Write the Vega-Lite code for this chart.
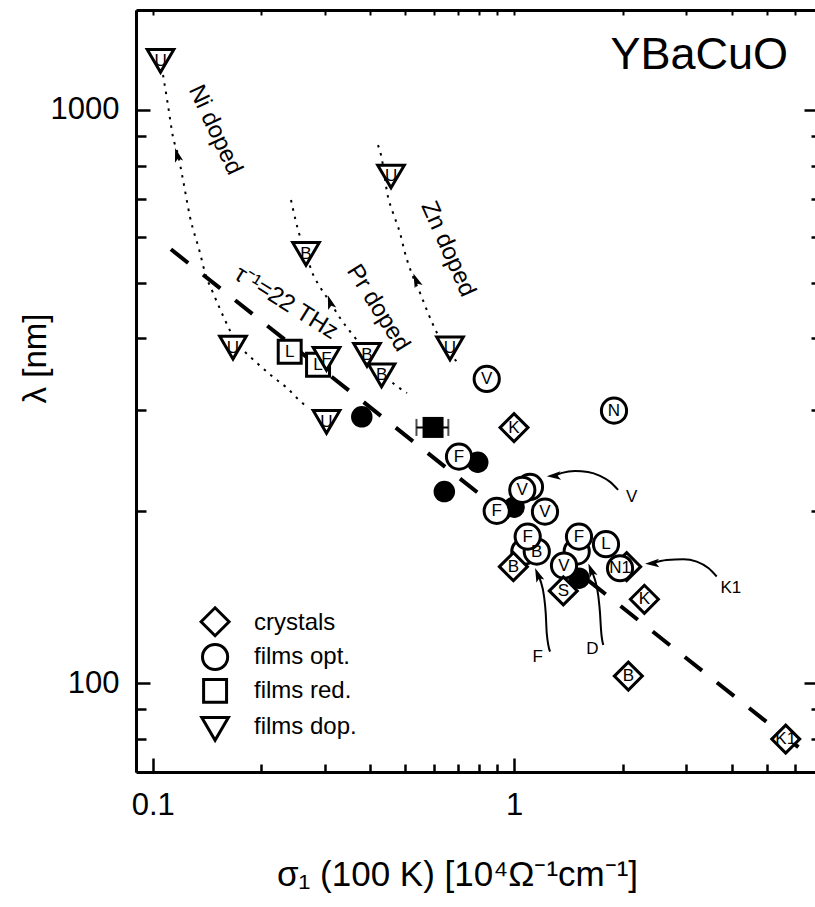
{
  "$schema": "https://vega.github.io/schema/vega-lite/v6.json",
  "width": 679,
  "height": 762,
  "autosize": {"type": "none"},
  "padding": {"left": 136, "top": 10, "right": 0, "bottom": 135},
  "background": "white",
  "config": {
    "view": {"stroke": null},
    "font": "Liberation Sans",
    "axisLeft": {"titleFontSize": 33, "titleFontWeight": "normal", "titleColor": "black", "titleX": -101, "titleY": 348, "titleAngle": 270, "titleAlign": "center", "titleBaseline": "middle"}
  },
  "resolve": {"axis": {"x": "independent", "y": "independent"}},
  "datasets": {
    "fit": [{"x": 0.1123, "y": 571.5}, {"x": 6.48, "y": 75.2}],
    "doping": [
      {"grp": "Ni1", "x": 0.1068, "y": 1151}, {"grp": "Ni1", "x": 0.1102, "y": 1020}, {"grp": "Ni1", "x": 0.1138, "y": 897}, {"grp": "Ni1", "x": 0.1175, "y": 835}, {"grp": "Ni1", "x": 0.1213, "y": 755}, {"grp": "Ni1", "x": 0.1268, "y": 651}, {"grp": "Ni1", "x": 0.1352, "y": 563}, {"grp": "Ni1", "x": 0.1396, "y": 519.6}, {"grp": "Ni1", "x": 0.1469, "y": 479.6}, {"grp": "Ni1", "x": 0.1585, "y": 430.1}, {"grp": "Ni1", "x": 0.1658, "y": 405},
      {"grp": "Ni2", "x": 0.18, "y": 378.3}, {"grp": "Ni2", "x": 0.1944, "y": 361.9}, {"grp": "Ni2", "x": 0.2153, "y": 342.1}, {"grp": "Ni2", "x": 0.2353, "y": 327.3}, {"grp": "Ni2", "x": 0.2525, "y": 313.2}, {"grp": "Ni2", "x": 0.2691, "y": 302.1},
      {"grp": "Pr", "x": 0.2414, "y": 696.7}, {"grp": "Pr", "x": 0.2492, "y": 637.9}, {"grp": "Pr", "x": 0.2573, "y": 593.2}, {"grp": "Pr", "x": 0.2656, "y": 561}, {"grp": "Pr", "x": 0.276, "y": 521.7}, {"grp": "Pr", "x": 0.2904, "y": 491.2}, {"grp": "Pr", "x": 0.3095, "y": 462.4}, {"grp": "Pr", "x": 0.33, "y": 433.6}, {"grp": "Pr", "x": 0.356, "y": 406.7}, {"grp": "Pr", "x": 0.3918, "y": 378.3}, {"grp": "Pr", "x": 0.4284, "y": 349.1}, {"grp": "Pr", "x": 0.4655, "y": 332.7}, {"grp": "Pr", "x": 0.5056, "y": 320.8},
      {"grp": "Zn", "x": 0.4202, "y": 868.6}, {"grp": "Zn", "x": 0.4284, "y": 834.7}, {"grp": "Zn", "x": 0.448, "y": 705.2}, {"grp": "Zn", "x": 0.4625, "y": 661.4}, {"grp": "Zn", "x": 0.4835, "y": 610.3}, {"grp": "Zn", "x": 0.4992, "y": 563.1}, {"grp": "Zn", "x": 0.5255, "y": 511.4}, {"grp": "Zn", "x": 0.5493, "y": 479.6}, {"grp": "Zn", "x": 0.578, "y": 442.4}, {"grp": "Zn", "x": 0.6121, "y": 408.3}, {"grp": "Zn", "x": 0.6954, "y": 363.4}
    ],
    "pointers": [
      {"grp": "V", "x": 1.941, "y": 217.4}, {"grp": "V", "x": 1.844, "y": 224.5}, {"grp": "V", "x": 1.73, "y": 230.0}, {"grp": "V", "x": 1.602, "y": 233.7}, {"grp": "V", "x": 1.475, "y": 234.6}, {"grp": "V", "x": 1.358, "y": 232.8}, {"grp": "V", "x": 1.288, "y": 229.9},
      {"grp": "K1", "x": 3.639, "y": 153.5}, {"grp": "K1", "x": 3.45, "y": 158.8}, {"grp": "K1", "x": 3.204, "y": 163.0}, {"grp": "K1", "x": 2.942, "y": 164.6}, {"grp": "K1", "x": 2.646, "y": 164.1}, {"grp": "K1", "x": 2.41, "y": 161.9},
      {"grp": "F", "x": 1.258, "y": 113.5}, {"grp": "F", "x": 1.232, "y": 122.2}, {"grp": "F", "x": 1.224, "y": 132.4}, {"grp": "F", "x": 1.211, "y": 141.6}, {"grp": "F", "x": 1.186, "y": 150.4}, {"grp": "F", "x": 1.163, "y": 154.7},
      {"grp": "D", "x": 1.766, "y": 116.6}, {"grp": "D", "x": 1.741, "y": 123.9}, {"grp": "D", "x": 1.73, "y": 132.4}, {"grp": "D", "x": 1.712, "y": 141.6}, {"grp": "D", "x": 1.676, "y": 151.4}, {"grp": "D", "x": 1.633, "y": 157.6}
    ],
    "heads": [
      {"x": 0.1168, "y": 835, "ang": -16},
      {"x": 0.3095, "y": 462.4, "ang": -18},
      {"x": 0.5355, "y": 505, "ang": -22},
      {"x": 1.288, "y": 229.9, "ang": -93},
      {"x": 2.41, "y": 161.9, "ang": -93},
      {"x": 1.163, "y": 154.7, "ang": -22},
      {"x": 1.633, "y": 157.6, "ang": -22}
    ],
    "solid": [
      {"x": 0.379, "y": 291.6}, {"x": 0.7936, "y": 242.9}, {"x": 0.6413, "y": 215.9}, {"x": 1.0, "y": 202.8}, {"x": 1.513, "y": 152.5}
    ],
    "reduced": [{"x": 0.5969, "y": 279.4, "lo": 0.537, "hi": 0.658}],
    "markers": [
      {"type": "crystals", "x": 2.05, "y": 159.7, "lab": ""},
      {"type": "films opt.", "x": 1.107, "y": 220.0, "lab": ""},
      {"type": "films opt.", "x": 1.068, "y": 169.7, "lab": ""},
      {"type": "films opt.", "x": 1.491, "y": 169.7, "lab": ""},
      {"type": "films opt.", "x": 0.8403, "y": 339.5, "lab": "V"},
      {"type": "films opt.", "x": 1.891, "y": 298.9, "lab": "N"},
      {"type": "films opt.", "x": 0.7042, "y": 248.5, "lab": "F"},
      {"type": "films opt.", "x": 1.054, "y": 217.4, "lab": "V"},
      {"type": "films opt.", "x": 0.8956, "y": 199.8, "lab": "F"},
      {"type": "films opt.", "x": 1.218, "y": 199.2, "lab": "V"},
      {"type": "films opt.", "x": 1.156, "y": 169.7, "lab": "B"},
      {"type": "films opt.", "x": 1.091, "y": 180.2, "lab": "F"},
      {"type": "films opt.", "x": 1.513, "y": 180.2, "lab": "F"},
      {"type": "films opt.", "x": 1.375, "y": 160.4, "lab": "V"},
      {"type": "films opt.", "x": 1.797, "y": 174.8, "lab": "L"},
      {"type": "films opt.", "x": 1.965, "y": 158.7, "lab": "N1"},
      {"type": "crystals", "x": 1.0, "y": 279.2, "lab": "K"},
      {"type": "crystals", "x": 0.996, "y": 159.7, "lab": "B"},
      {"type": "crystals", "x": 1.369, "y": 144.9, "lab": "S"},
      {"type": "crystals", "x": 2.295, "y": 140.1, "lab": "K"},
      {"type": "crystals", "x": 2.072, "y": 102.9, "lab": "B"},
      {"type": "crystals", "x": 5.649, "y": 79.9, "lab": "K1"},
      {"type": "films red.", "x": 0.2394, "y": 378.8, "lab": "L"},
      {"type": "films red.", "x": 0.2868, "y": 359.5, "lab": "L"},
      {"type": "films dop.", "x": 0.1051, "y": 1218, "lab": "U"},
      {"type": "films dop.", "x": 0.1668, "y": 385, "lab": "U"},
      {"type": "films dop.", "x": 0.2656, "y": 561, "lab": "B"},
      {"type": "films dop.", "x": 0.4566, "y": 765.6, "lab": "U"},
      {"type": "films dop.", "x": 0.665, "y": 383.7, "lab": "U"},
      {"type": "films dop.", "x": 0.3027, "y": 285.6, "lab": "U"},
      {"type": "films dop.", "x": 0.3027, "y": 367.9, "lab": "F"},
      {"type": "films dop.", "x": 0.3918, "y": 373.8, "lab": "B"},
      {"type": "films dop.", "x": 0.4299, "y": 344.3, "lab": "B"}
    ],
    "key": [
      {"type": "crystals", "x": 0.1488, "lx": 0.1907, "y": 128.0, "ly": 127.6},
      {"type": "films opt.", "x": 0.1488, "lx": 0.1907, "y": 111.1, "ly": 111.1},
      {"type": "films red.", "x": 0.1488, "lx": 0.1907, "y": 96.96, "ly": 96.96},
      {"type": "films dop.", "x": 0.1488, "lx": 0.1907, "y": 83.24, "ly": 84.0}
    ],
    "notes": [
      {"txt": "Ni doped", "x": 0.1488, "y": 922.9, "ang": 65},
      {"txt": "Pr doped", "x": 0.4202, "y": 451.4, "ang": 58},
      {"txt": "Zn doped", "x": 0.6568, "y": 572.1, "ang": 66},
      {"txt": "τ⁻¹=22 THz", "x": 0.2339, "y": 460.7, "ang": 32}
    ],
    "tags": [
      {"txt": "V", "x": 2.117, "y": 211.6},
      {"txt": "K1", "x": 3.98, "y": 146.4},
      {"txt": "F", "x": 1.163, "y": 111.3},
      {"txt": "D", "x": 1.647, "y": 114.6}
    ],
    "heading": [{"txt": "YBaCuO", "x": 5.733, "y": 1179}]
  },
  "layer": [
    {
      "data": {"name": "fit"},
      "mark": {"type": "line", "color": "black", "strokeWidth": 4, "strokeDash": [22, 19]},
      "encoding": {
        "x": {"field": "x", "type": "quantitative", "scale": {"type": "log", "domain": [0.08989, 6.808], "nice": false},
          "axis": {
            "orient": "bottom",
            "values": [0.09, 0.1, 0.2, 0.3, 0.4, 0.5, 0.6, 0.7, 0.8, 0.9, 1, 2, 3, 4, 5, 6],
            "labelExpr": "datum.value == 0.1 ? '0.1' : (datum.value == 1 ? '1' : '')",
            "tickSize": {"condition": {"test": "datum.value == 0.1 || datum.value == 1", "value": -14}, "value": -8},
            "tickWidth": 2.5, "tickColor": "black",
            "domainColor": "black", "domainWidth": 3,
            "labelFontSize": 31, "labelColor": "black", "labelPadding": 32,
            "labelFlush": false, "labelOverlap": false, "labelBound": false,
            "grid": false,
            "title": "σ₁ (100 K) [10⁴Ω⁻¹cm⁻¹]",
            "titleFontSize": 35, "titleFontWeight": "normal", "titleColor": "black",
            "titleX": 321, "titleY": 113, "titleAlign": "center", "titleBaseline": "alphabetic"
          }
        },
        "y": {"field": "y", "type": "quantitative", "scale": {"type": "log", "domain": [70, 1494.3], "nice": false},
          "axis": {
            "orient": "left",
            "values": [80, 90, 100, 200, 300, 400, 500, 600, 700, 800, 900, 1000],
            "labelExpr": "datum.value == 100 ? '100' : (datum.value == 1000 ? '1000' : '')",
            "tickSize": {"condition": {"test": "datum.value == 100 || datum.value == 1000", "value": -14}, "value": -10},
            "tickWidth": 2.5, "tickColor": "black",
            "domainColor": "black", "domainWidth": 3,
            "labelFontSize": 31, "labelColor": "black", "labelPadding": 31,
            "labelFlush": false, "labelOverlap": false, "labelBound": false,
            "grid": false,
            "title": "λ [nm]"
          }
        }
      }
    },
    {
      "data": {"name": "doping"},
      "mark": {"type": "line", "color": "black", "strokeWidth": 2, "strokeDash": [2.5, 6], "interpolate": "monotone"},
      "encoding": {
        "x": {"field": "x", "type": "quantitative", "scale": {"type": "log", "domain": [0.08989, 6.808], "nice": false},
          "axis": {
            "orient": "top",
            "values": [0.09, 0.1, 0.2, 0.3, 0.4, 0.5, 0.6, 0.7, 0.8, 0.9, 1, 2, 3, 4, 5, 6],
            "labels": false,
            "tickSize": -5, "tickWidth": 2, "tickColor": "black",
            "domainColor": "black", "domainWidth": 3, "grid": false, "title": null
          }
        },
        "y": {"field": "y", "type": "quantitative", "scale": {"type": "log", "domain": [70, 1494.3], "nice": false},
          "axis": {
            "orient": "right",
            "values": [80, 90, 100, 200, 300, 400, 500, 600, 700, 800, 900, 1000],
            "labels": false,
            "tickSize": {"condition": {"test": "datum.value == 100 || datum.value == 1000", "value": -11}, "value": -4},
            "tickWidth": 2.5, "tickColor": "black",
            "domain": false, "grid": false, "title": null
          }
        },
        "detail": {"field": "grp", "type": "nominal"}
      }
    },
    {
      "data": {"name": "pointers"},
      "mark": {"type": "line", "color": "black", "strokeWidth": 2, "interpolate": "monotone"},
      "encoding": {
        "x": {"field": "x", "type": "quantitative", "scale": {"type": "log", "domain": [0.08989, 6.808], "nice": false}, "axis": null},
        "y": {"field": "y", "type": "quantitative", "scale": {"type": "log", "domain": [70, 1494.3], "nice": false}, "axis": null},
        "detail": {"field": "grp", "type": "nominal"}
      }
    },
    {
      "data": {"name": "heads"},
      "mark": {"type": "point", "shape": "M0,-1L0.6,1L0,0.55L-0.6,1Z", "filled": true, "color": "black", "opacity": 1, "size": 200},
      "encoding": {
        "x": {"field": "x", "type": "quantitative", "scale": {"type": "log", "domain": [0.08989, 6.808], "nice": false}, "axis": null},
        "y": {"field": "y", "type": "quantitative", "scale": {"type": "log", "domain": [70, 1494.3], "nice": false}, "axis": null},
        "angle": {"field": "ang", "type": "quantitative", "scale": null}
      }
    },
    {
      "data": {"name": "solid"},
      "mark": {"type": "point", "shape": "circle", "filled": true, "color": "black", "opacity": 1, "size": 462},
      "encoding": {
        "x": {"field": "x", "type": "quantitative", "scale": {"type": "log", "domain": [0.08989, 6.808], "nice": false}, "axis": null},
        "y": {"field": "y", "type": "quantitative", "scale": {"type": "log", "domain": [70, 1494.3], "nice": false}, "axis": null}
      }
    },
    {
      "data": {"name": "reduced"},
      "mark": {"type": "errorbar", "color": "black", "thickness": 2, "ticks": {"size": 17, "thickness": 2}},
      "encoding": {
        "x": {"field": "lo", "type": "quantitative", "scale": {"type": "log", "domain": [0.08989, 6.808], "nice": false}, "axis": null},
        "x2": {"field": "hi"},
        "y": {"field": "y", "type": "quantitative", "scale": {"type": "log", "domain": [70, 1494.3], "nice": false}, "axis": null}
      }
    },
    {
      "data": {"name": "reduced"},
      "mark": {"type": "point", "shape": "square", "filled": true, "color": "black", "opacity": 1, "size": 441},
      "encoding": {
        "x": {"field": "x", "type": "quantitative", "scale": {"type": "log", "domain": [0.08989, 6.808], "nice": false}, "axis": null},
        "y": {"field": "y", "type": "quantitative", "scale": {"type": "log", "domain": [70, 1494.3], "nice": false}, "axis": null}
      }
    },
    {
      "data": {"name": "markers"},
      "mark": {"type": "point", "filled": false, "stroke": "black", "fill": "white", "fillOpacity": 1, "strokeWidth": 3, "opacity": 1, "size": 784},
      "encoding": {
        "x": {"field": "x", "type": "quantitative", "scale": {"type": "log", "domain": [0.08989, 6.808], "nice": false}, "axis": null},
        "y": {"field": "y", "type": "quantitative", "scale": {"type": "log", "domain": [70, 1494.3], "nice": false}, "axis": null},
        "shape": {
          "field": "type", "type": "nominal",
          "scale": {
            "domain": ["crystals", "films opt.", "films red.", "films dop."],
            "range": ["M-1,0L0,-1L1,0L0,1Z", "M0.9,0C0.9,0.497,0.497,0.9,0,0.9C-0.497,0.9,-0.9,0.497,-0.9,0C-0.9,-0.497,-0.497,-0.9,0,-0.9C0.497,-0.9,0.9,-0.497,0.9,0Z", "M-0.82,-0.82L0.82,-0.82L0.82,0.82L-0.82,0.82Z", "M-0.95,-0.81L0.95,-0.81L0,0.81Z"]
          },
          "legend": null
        }
      }
    },
    {
      "data": {"name": "key"},
      "mark": {"type": "point", "filled": false, "stroke": "black", "fill": "white", "fillOpacity": 1, "strokeWidth": 3, "opacity": 1, "size": 784},
      "encoding": {
        "x": {"field": "x", "type": "quantitative", "scale": {"type": "log", "domain": [0.08989, 6.808], "nice": false}, "axis": null},
        "y": {"field": "y", "type": "quantitative", "scale": {"type": "log", "domain": [70, 1494.3], "nice": false}, "axis": null},
        "shape": {"field": "type", "type": "nominal", "legend": null}
      }
    },
    {
      "data": {"name": "key"},
      "mark": {"type": "text", "fontSize": 24, "color": "black", "align": "left", "baseline": "middle"},
      "encoding": {
        "x": {"field": "lx", "type": "quantitative", "scale": {"type": "log", "domain": [0.08989, 6.808], "nice": false}, "axis": null},
        "y": {"field": "ly", "type": "quantitative", "scale": {"type": "log", "domain": [70, 1494.3], "nice": false}, "axis": null},
        "text": {"field": "type"}
      }
    },
    {
      "data": {"name": "markers"},
      "mark": {"type": "text", "fontSize": 17, "color": "black", "align": "center", "baseline": "middle"},
      "encoding": {
        "x": {"field": "x", "type": "quantitative", "scale": {"type": "log", "domain": [0.08989, 6.808], "nice": false}, "axis": null},
        "y": {"field": "y", "type": "quantitative", "scale": {"type": "log", "domain": [70, 1494.3], "nice": false}, "axis": null},
        "text": {"field": "lab"}
      }
    },
    {
      "data": {"name": "notes"},
      "mark": {"type": "text", "fontSize": 24, "color": "black", "align": "center", "baseline": "middle"},
      "encoding": {
        "x": {"field": "x", "type": "quantitative", "scale": {"type": "log", "domain": [0.08989, 6.808], "nice": false}, "axis": null},
        "y": {"field": "y", "type": "quantitative", "scale": {"type": "log", "domain": [70, 1494.3], "nice": false}, "axis": null},
        "text": {"field": "txt"},
        "angle": {"field": "ang", "type": "quantitative", "scale": null}
      }
    },
    {
      "data": {"name": "tags"},
      "mark": {"type": "text", "fontSize": 17, "color": "black", "align": "center", "baseline": "middle"},
      "encoding": {
        "x": {"field": "x", "type": "quantitative", "scale": {"type": "log", "domain": [0.08989, 6.808], "nice": false}, "axis": null},
        "y": {"field": "y", "type": "quantitative", "scale": {"type": "log", "domain": [70, 1494.3], "nice": false}, "axis": null},
        "text": {"field": "txt"}
      }
    },
    {
      "data": {"name": "heading"},
      "mark": {"type": "text", "fontSize": 45, "color": "black", "align": "right", "baseline": "alphabetic"},
      "encoding": {
        "x": {"field": "x", "type": "quantitative", "scale": {"type": "log", "domain": [0.08989, 6.808], "nice": false}, "axis": null},
        "y": {"field": "y", "type": "quantitative", "scale": {"type": "log", "domain": [70, 1494.3], "nice": false}, "axis": null},
        "text": {"field": "txt"}
      }
    }
  ]
}
